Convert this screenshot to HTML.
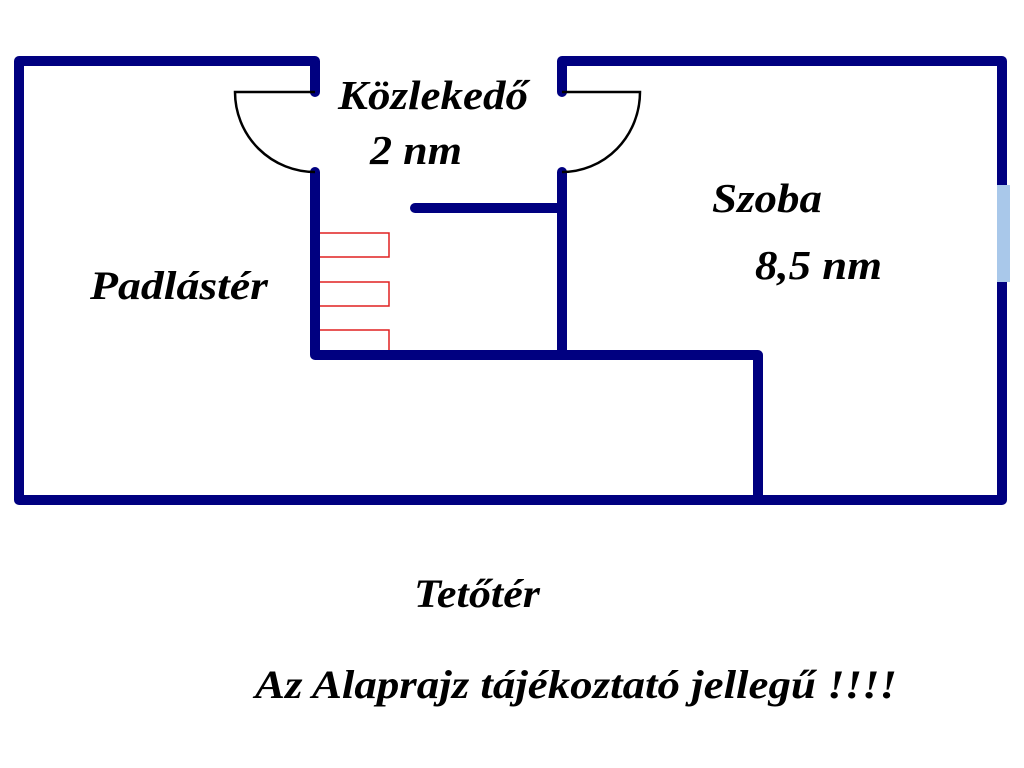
<!DOCTYPE html>
<html><head><meta charset="utf-8"><style>
html,body{margin:0;padding:0;background:#fff;width:1024px;height:768px;overflow:hidden}
svg text{font-family:"Liberation Serif",serif;font-weight:bold;font-style:italic;fill:#000}
</style></head><body>
<svg width="1024" height="768" viewBox="0 0 1024 768">
<g stroke="#000080" stroke-width="10" fill="none" stroke-linecap="round" stroke-linejoin="round">
<path d="M315 92 L315 61 L19 61 L19 500 L1002 500 L1002 61 L562 61 L562 92"/>
<path d="M315 172 L315 355 L758 355 L758 500"/>
<path d="M562 172 L562 355"/>
<path d="M415 208 L562 208"/>
</g>
<rect x="997" y="185" width="13" height="97" fill="#a9c8ea"/>
<g stroke="#000" stroke-width="2.5" fill="none">
<path d="M315 92 L235 92 A80 80 0 0 0 315 172"/>
<path d="M562 92 L640 92 A78 80 0 0 1 562 172"/>
</g>
<g stroke="#e02020" stroke-width="1.5" fill="none">
<path d="M320 233 H389 V257 H320"/>
<path d="M320 282 H389 V306 H320"/>
<path d="M320 330 H389 V350"/>
</g>
<text x="338" y="109" font-size="41" textLength="190" lengthAdjust="spacingAndGlyphs">Közlekedő</text>
<text x="370" y="164" font-size="41" textLength="92" lengthAdjust="spacingAndGlyphs">2 nm</text>
<text x="712" y="212" font-size="41" textLength="110" lengthAdjust="spacingAndGlyphs">Szoba</text>
<text x="755" y="279" font-size="41" textLength="127" lengthAdjust="spacingAndGlyphs">8,5 nm</text>
<text x="90" y="299" font-size="40" textLength="178" lengthAdjust="spacingAndGlyphs">Padlástér</text>
<text x="414" y="607" font-size="40" textLength="126" lengthAdjust="spacingAndGlyphs">Tetőtér</text>
<text x="255" y="698" font-size="40" textLength="642" lengthAdjust="spacingAndGlyphs">Az Alaprajz tájékoztató jellegű !!!!</text>
</svg>
</body></html>
